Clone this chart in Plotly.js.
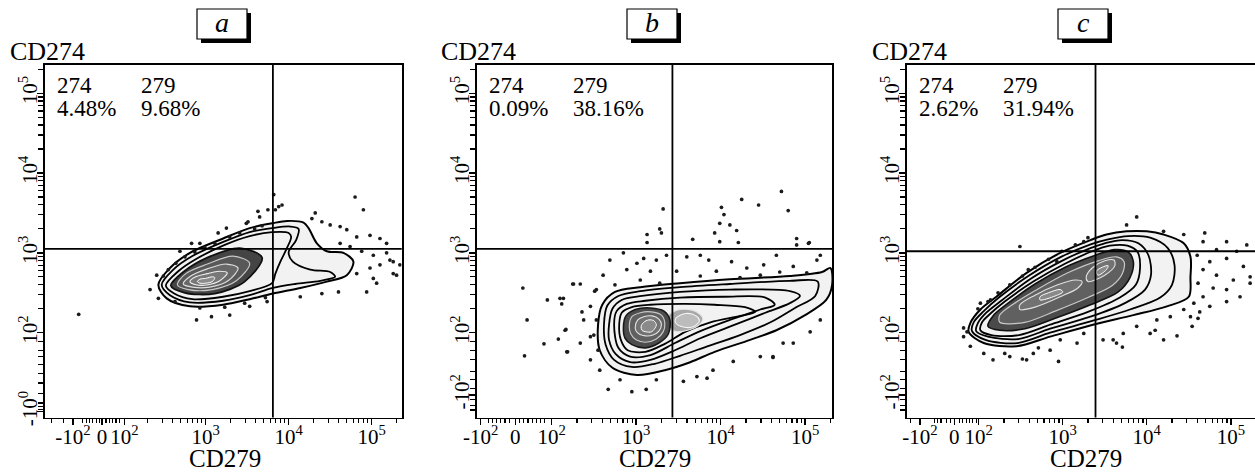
<!DOCTYPE html>
<html><head><meta charset="utf-8">
<script src="https://cdn.plot.ly/plotly-3.0.1.min.js"></script>
<style>html,body{margin:0;padding:0;background:#fff;overflow:hidden}#chart{width:1255px;height:473px}</style>
</head><body><div id="chart"></div>
<script>
// ---------- DATA (display units: decade position, 10^k -> k) ----------
const panels = ['a', 'b', 'c'];
const q274 = ['4.48%', '0.09%', '2.62%'];
const q279 = ['9.68%', '38.16%', '31.94%'];
const gateX = [3.81, 3.43, 3.39];
const gateY = [3.05, 3.05, 3.02];
const xTickText = ['-10<sup>2</sup>', '0', '10<sup>2</sup>', '10<sup>3</sup>', '10<sup>4</sup>', '10<sup>5</sup>'];
const yTickTextA = ['-10<sup>0</sup>', '10<sup>2</sup>', '10<sup>3</sup>', '10<sup>4</sup>', '10<sup>5</sup>'];
const yTickTextBC = ['-10<sup>2</sup>', '10<sup>2</sup>', '10<sup>3</sup>', '10<sup>4</sup>', '10<sup>5</sup>'];

// panel a contours
const aC1x = [2.43,2.57,2.81,3.21,3.53,3.80,3.98,4.18,4.24,4.34,4.46,4.66,4.78,4.70,4.46,4.14,3.81,3.53,3.21,2.81,2.53,2.43];
const aC1y = [2.60,2.81,3.00,3.18,3.31,3.37,3.40,3.38,3.31,3.12,3.02,3.00,2.89,2.72,2.64,2.56,2.49,2.42,2.35,2.33,2.43,2.60];
const aC2x = [2.47,2.61,2.84,3.22,3.53,3.80,4.02,4.12,4.09,4.00,4.05,4.26,4.50,4.56,4.38,4.08,3.81,3.53,3.21,2.81,2.57,2.47];
const aC2y = [2.60,2.79,2.96,3.14,3.26,3.31,3.33,3.30,3.16,3.01,2.89,2.79,2.76,2.70,2.65,2.61,2.56,2.47,2.40,2.38,2.47,2.60];
const aC3x = [2.52,2.67,2.88,3.23,3.53,3.80,4.00,4.03,3.97,3.90,3.84,3.80,3.53,3.21,2.84,2.62,2.52];
const aC3y = [2.59,2.77,2.92,3.10,3.21,3.26,3.25,3.20,3.04,2.89,2.74,2.62,2.52,2.45,2.42,2.49,2.59];
const aC4x = [3.68,3.47,3.11,2.75,2.58,2.73,3.02,3.41,3.68];
const aC4y = [2.94,2.64,2.49,2.50,2.59,2.76,2.94,3.06,2.94];
const aC5x = [3.53,3.37,3.08,2.79,2.66,2.76,3.02,3.33,3.53];
const aC5y = [2.87,2.65,2.54,2.54,2.60,2.74,2.86,2.96,2.87];
const aC6x = [3.39,3.27,3.05,2.84,2.73,2.82,3.02,3.25,3.39];
const aC6y = [2.81,2.65,2.57,2.57,2.61,2.71,2.80,2.86,2.81];
const aC7x = [3.26,3.17,3.03,2.88,2.81,2.88,3.02,3.16,3.26];
const aC7y = [2.75,2.65,2.60,2.60,2.64,2.70,2.74,2.77,2.75];
const aC8x = [3.11,3.08,3.00,2.93,2.90,2.93,3.00,3.08,3.11];
const aC8y = [2.69,2.64,2.62,2.62,2.64,2.67,2.68,2.70,2.69];
const aDotX = [3.82,3.88,3.92,3.84,3.75,3.63,3.65,3.49,3.25,3.15,2.93,2.83,2.69,4.80,4.90,4.32,4.28,4.40,4.50,4.62,4.70,4.82,4.98,5.10,5.18,4.62,4.74,4.88,5.02,5.18,5.26,5.10,4.98,4.82,5.02,5.30,5.06,4.94,4.60,4.40,4.14,3.74,3.53,3.29,3.07,2.89,2.43,2.33,2.41,1.47,5.34,5.22,5.26,3.51,
  2.49,2.55,2.64,2.75,2.87,2.99,3.11,3.29,3.41,3.59,3.68,2.63,2.93,3.23,3.47,3.72];
const aDotY = [3.73,3.58,3.60,3.54,3.54,3.52,3.45,3.37,3.31,3.25,3.12,3.12,3.02,3.70,3.54,3.50,3.43,3.39,3.35,3.33,3.29,3.20,3.22,3.18,3.12,3.12,3.08,3.02,2.97,3.00,2.89,2.85,2.81,2.74,2.68,2.72,2.62,2.51,2.51,2.49,2.45,2.39,2.33,2.22,2.20,2.16,2.43,2.54,2.72,2.23,2.85,2.91,2.74,3.39,
  2.71,2.79,2.87,2.95,3.01,3.07,3.12,3.20,3.25,3.30,3.34,2.39,2.31,2.32,2.37,2.44];

// panel b contours
const bC1x = [2.55,2.60,2.75,3.05,3.52,4.11,4.82,5.20,5.30,5.32,5.25,5.00,4.66,4.35,3.93,3.64,3.34,3.01,2.72,2.57,2.55];
const bC1y = [2.10,2.35,2.51,2.57,2.62,2.67,2.71,2.76,2.81,2.60,2.41,2.22,2.03,1.91,1.76,1.63,1.53,1.47,1.56,1.78,2.10];
const bC2x = [2.62,2.66,2.79,3.05,3.52,4.11,4.82,5.15,5.12,4.88,4.59,4.23,3.82,3.52,3.22,2.95,2.74,2.64,2.62];
const bC2y = [2.10,2.34,2.46,2.52,2.57,2.61,2.65,2.64,2.46,2.31,2.13,1.97,1.82,1.71,1.61,1.57,1.66,1.85,2.10];
const bC3x = [2.68,2.72,2.83,3.07,3.52,4.11,4.82,4.94,4.82,4.53,4.17,3.76,3.46,3.17,2.93,2.76,2.68,2.68];
const bC3y = [2.10,2.30,2.41,2.46,2.51,2.54,2.52,2.46,2.37,2.25,2.10,1.93,1.78,1.66,1.63,1.73,1.91,2.10];
const bC4x = [2.74,2.77,2.89,3.11,3.52,4.05,4.53,4.64,4.47,4.11,3.76,3.46,3.17,2.93,2.79,2.74];
const bC4y = [2.10,2.27,2.36,2.40,2.44,2.45,2.44,2.35,2.29,2.16,2.02,1.87,1.72,1.70,1.81,2.10];
const bC5x = [2.80,2.83,2.95,3.17,3.58,3.93,4.29,4.41,4.23,3.88,3.58,3.34,3.11,2.90,2.82,2.80];
const bC5y = [2.10,2.25,2.32,2.35,2.36,2.35,2.32,2.26,2.21,2.13,2.01,1.86,1.76,1.78,1.91,2.10];
const bL2x = [3.38,3.52,3.70,3.79,3.76,3.61,3.45,3.38,3.38];
const bL2y = [2.22,2.29,2.27,2.18,2.11,2.03,2.02,2.10,2.22];
const bL3x = [3.47,3.59,3.71,3.75,3.69,3.56,3.47,3.47];
const bL3y = [2.18,2.24,2.21,2.15,2.08,2.07,2.12,2.18];
const bC6x = [2.85,2.88,2.99,3.17,3.33,3.40,3.38,3.27,3.11,2.95,2.87,2.85];
const bC6y = [2.06,2.21,2.29,2.31,2.27,2.16,1.98,1.87,1.81,1.85,1.93,2.06];
const bC7x = [2.92,2.95,3.05,3.18,3.30,3.34,3.32,3.24,3.11,3.00,2.94,2.92];
const bC7y = [2.07,2.20,2.25,2.26,2.22,2.12,2.01,1.92,1.88,1.91,1.98,2.07];
const bC8x = [2.99,3.02,3.09,3.19,3.27,3.30,3.27,3.20,3.11,3.04,3.00,2.99];
const bC8y = [2.07,2.16,2.20,2.21,2.17,2.10,2.02,1.97,1.96,1.98,2.02,2.07];
const bC9x = [3.06,3.09,3.15,3.21,3.24,3.22,3.18,3.12,3.07,3.06];
const bC9y = [2.08,2.13,2.16,2.15,2.10,2.05,2.01,2.01,2.03,2.08];
const bDotX = [4.72,4.25,4.45,4.80,4.01,4.04,3.99,4.11,4.19,3.93,3.99,4.21,4.90,5.05,3.67,3.32,3.28,3.30,3.13,3.13,2.69,2.85,3.01,3.09,3.24,3.36,3.60,3.76,3.86,4.13,4.31,4.51,4.66,4.86,5.14,5.18,2.61,2.89,3.17,3.48,3.95,4.47,5.02,2.26,2.34,2.53,2.14,2.46,2.16,2.38,2.34,2.18,2.46,1.66,1.71,1.68,1.95,2.10,2.12,1.91,2.08,2.17,2.19,2.25,2.36,2.51,2.67,2.95,3.12,3.56,3.84,4.15,4.62,4.47,2.46,2.57,2.81,3.24,3.72,3.91,5.06,5.18,4.86,4.62,4.74,4.90,5.04,
  2.75,3.05,3.28,3.76,4.23,4.70,2.53,2.50,2.55];
const bDotY = [3.77,3.67,3.60,3.53,3.57,3.48,3.37,3.35,3.28,3.25,3.14,3.13,3.18,3.13,3.17,3.55,3.30,3.25,3.23,3.13,2.91,3.00,2.87,2.93,2.91,2.97,2.95,2.97,2.91,2.89,2.81,2.85,2.97,2.83,2.91,2.97,2.72,2.79,2.77,2.77,2.77,2.72,2.75,2.61,2.61,2.54,2.43,2.33,2.03,2.16,1.87,1.76,1.95,2.56,2.16,1.71,2.41,2.43,2.36,1.86,1.92,2.04,1.76,2.61,2.26,2.52,1.29,1.26,1.29,1.39,1.43,1.64,1.70,1.70,1.66,1.53,1.41,1.41,1.45,1.53,2.01,2.16,1.87,1.69,1.87,3.10,3.12,
  2.60,2.66,2.62,2.71,2.69,2.76,2.16,1.97,1.78];

// panel c contours
const cC1x = [1.88,2.06,2.45,2.85,3.36,3.84,4.24,4.50,4.52,4.52,4.44,4.20,4.00,3.76,3.52,3.33,2.97,2.57,2.21,2.02,1.90,1.88];
const cC1y = [2.01,1.87,1.83,1.95,2.10,2.22,2.33,2.45,2.70,2.95,3.12,3.23,3.27,3.27,3.23,3.16,3.00,2.75,2.45,2.29,2.12,2.01];
const cC2x = [1.92,2.08,2.46,2.85,3.36,3.80,4.16,4.30,4.33,4.25,4.04,3.78,3.54,3.34,2.98,2.59,2.24,2.06,1.94,1.92];
const cC2y = [2.02,1.91,1.87,2.00,2.15,2.29,2.44,2.60,2.85,3.06,3.19,3.21,3.17,3.11,2.95,2.71,2.44,2.27,2.13,2.02];
const cC3x = [1.97,2.11,2.47,2.85,3.33,3.74,3.98,4.05,4.02,3.90,3.71,3.50,3.33,2.99,2.61,2.28,2.09,1.99,1.97];
const cC3y = [2.02,1.95,1.92,2.05,2.20,2.37,2.54,2.72,2.97,3.12,3.16,3.12,3.06,2.90,2.67,2.41,2.25,2.12,2.02];
const cC4x = [2.02,2.15,2.48,2.85,3.30,3.68,3.87,3.92,3.89,3.77,3.56,3.35,3.02,2.65,2.31,2.14,2.04,2.02];
const cC4y = [2.03,1.97,1.97,2.10,2.26,2.44,2.60,2.81,3.01,3.09,3.09,3.02,2.86,2.64,2.39,2.24,2.13,2.03];
const cC5x = [2.11,2.25,2.55,2.91,3.33,3.66,3.80,3.84,3.78,3.62,3.39,3.03,2.67,2.35,2.17,2.11];
const cC5y = [2.08,2.03,2.05,2.18,2.35,2.51,2.69,2.89,3.01,3.04,2.97,2.82,2.61,2.37,2.21,2.08];
const cC6x = [2.25,2.55,2.91,3.30,3.59,3.71,3.73,3.64,3.42,3.06,2.71,2.40,2.25,2.25];
const cC6y = [2.13,2.13,2.27,2.44,2.59,2.74,2.89,2.95,2.90,2.75,2.55,2.35,2.22,2.13];
const cC7ax = [2.49,2.67,2.97,3.18,3.23,3.15,2.94,2.67,2.49,2.49];
const cC7ay = [2.29,2.32,2.45,2.56,2.64,2.66,2.60,2.47,2.35,2.29];
const cC7bx = [3.30,3.50,3.62,3.61,3.50,3.35,3.28,3.30];
const cC7by = [2.64,2.72,2.84,2.91,2.90,2.81,2.70,2.64];
const cC8ax = [2.73,2.91,3.00,2.97,2.83,2.73,2.73];
const cC8ay = [2.41,2.46,2.51,2.54,2.50,2.45,2.41];
const cC8bx = [3.42,3.52,3.54,3.47,3.40,3.42];
const cC8by = [2.72,2.79,2.84,2.82,2.77,2.72];
const cDotX = [3.88,3.76,4.69,4.95,5.19,4.20,4.44,4.67,4.83,5.07,4.60,4.75,4.95,5.15,4.67,4.83,5.03,5.23,4.61,4.79,4.95,5.11,4.67,4.56,4.75,4.95,4.44,4.28,4.12,4.52,4.63,5.23,4.04,3.88,3.72,3.64,3.48,3.25,3.17,2.97,2.85,2.65,2.57,2.37,2.17,2.06,1.90,1.82,1.82,4.20,2.95,3.60,3.71,2.31,2.52,2.71,1.86,4.54,4.61,4.10,4.36,2.49,3.25,2.59,2.93,2.14,2.02,
  1.99,2.11,2.23,2.37,2.52,2.67,2.83,2.99,3.15,3.30];
const cDotY = [3.45,3.35,3.25,3.14,3.10,3.27,3.23,3.14,3.04,3.02,2.97,2.89,2.93,2.83,2.79,2.72,2.66,2.70,2.62,2.56,2.54,2.45,2.45,2.37,2.33,2.39,2.29,2.20,2.16,2.20,2.26,2.62,1.99,2.08,1.99,1.87,1.91,1.99,1.87,1.91,1.78,1.74,1.66,1.70,1.66,1.74,1.83,1.95,2.06,1.91,1.64,1.91,1.82,1.74,1.67,1.81,2.01,2.08,2.18,2.03,1.96,3.08,3.14,2.79,2.89,2.41,2.37,
  2.30,2.39,2.50,2.60,2.71,2.82,2.92,3.02,3.10,3.19];

// ---------- BUILD ----------
const W = 1255, H = 473;
const FONT = '"Liberation Serif", "Times New Roman", Times, serif';
const fx = p => p / W;
const fy = p => 1 - p / H;

const traces = [];
function contour(xs, ys, ax, color, width, fill) {
  traces.push({type: 'scatter', mode: 'lines', x: xs, y: ys, xaxis: ax[0], yaxis: ax[1],
    line: {color: color, width: width, shape: 'spline', smoothing: 0.9},
    fill: fill ? 'toself' : 'none', fillcolor: fill || 'rgba(0,0,0,0)',
    hoverinfo: 'skip', showlegend: false});
}
function dots(xs, ys, ax) {
  traces.push({type: 'scatter', mode: 'markers', x: xs, y: ys, xaxis: ax[0], yaxis: ax[1],
    marker: {size: 3.7, color: '#1b1b1b'}, hoverinfo: 'skip', showlegend: false});
}
const AX = [['x', 'y'], ['x2', 'y2'], ['x3', 'y3']];
const HALO = '#f2f2f2';

// panel a
contour(aC1x, aC1y, AX[0], '#000', 2.0, HALO);
contour(aC2x, aC2y, AX[0], '#000', 1.8, null);
contour(aC3x, aC3y, AX[0], '#000', 1.8, null);
contour(aC4x, aC4y, AX[0], '#111', 1.8, '#444444');
contour(aC5x, aC5y, AX[0], '#c8c8c8', 1.2, '#585858');
contour(aC6x, aC6y, AX[0], '#dedede', 1.2, '#686868');
contour(aC7x, aC7y, AX[0], '#efefef', 1.1, '#787878');
contour(aC8x, aC8y, AX[0], '#ffffff', 1.0, '#8c8c8c');
dots(aDotX, aDotY, AX[0]);
// panel b
contour(bC1x, bC1y, AX[1], '#000', 2.0, HALO);
contour(bC2x, bC2y, AX[1], '#000', 1.8, null);
contour(bC3x, bC3y, AX[1], '#000', 1.8, null);
contour(bC4x, bC4y, AX[1], '#000', 1.8, null);
contour(bC5x, bC5y, AX[1], '#000', 1.8, null);
contour(bL2x, bL2y, AX[1], '#e6e6e6', 1.2, '#a8a8a8');
contour(bL3x, bL3y, AX[1], '#f4f4f4', 1.1, '#bcbcbc');
contour(bC6x, bC6y, AX[1], '#1a1a1a', 1.6, '#4c4c4c');
contour(bC7x, bC7y, AX[1], '#c8c8c8', 1.2, '#606060');
contour(bC8x, bC8y, AX[1], '#e2e2e2', 1.1, '#727272');
contour(bC9x, bC9y, AX[1], '#ffffff', 1.0, '#8a8a8a');
dots(bDotX, bDotY, AX[1]);
// panel c
contour(cC1x, cC1y, AX[2], '#000', 2.0, HALO);
contour(cC2x, cC2y, AX[2], '#000', 1.8, null);
contour(cC3x, cC3y, AX[2], '#000', 1.8, null);
contour(cC4x, cC4y, AX[2], '#000', 1.8, null);
contour(cC5x, cC5y, AX[2], '#111', 1.6, '#4a4a4a');
contour(cC6x, cC6y, AX[2], '#c8c8c8', 1.2, '#606060');
contour(cC7ax, cC7ay, AX[2], '#e0e0e0', 1.1, '#727272');
contour(cC7bx, cC7by, AX[2], '#e0e0e0', 1.1, '#727272');
contour(cC8ax, cC8ay, AX[2], '#ffffff', 1.0, '#8a8a8a');
contour(cC8bx, cC8by, AX[2], '#ffffff', 1.0, '#8a8a8a');
dots(cDotX, cDotY, AX[2]);

// axes
function logMinors(hi) {
  const v = [];
  for (let k = 2; k <= 5; k++) for (let m = 2; m <= 9; m++) {
    const t = k + Math.log10(m); if (t < hi) v.push(t);
  }
  return v;
}
const tickFont = {family: FONT, size: 21, color: '#000'};
function xAxis(dom, rng, tv, extra, anchor) {
  return {domain: dom, range: rng, anchor: anchor, tickmode: 'array', tickvals: tv, ticktext: xTickText,
    tickangle: 0, ticks: 'outside', ticklen: 6, tickwidth: 1.4, tickcolor: '#000', ticklabelstandoff: -7,
    showline: true, linecolor: '#000', linewidth: 1.8, mirror: true,
    showgrid: false, zeroline: false, tickfont: tickFont, fixedrange: true,
    minor: {tickmode: 'array', tickvals: extra.concat(logMinors(rng[1])), ticks: 'outside',
      ticklen: 4, tickwidth: 1.2, tickcolor: '#000', showgrid: false}};
}
function yAxis(dom, rng, tv, tt, extra, anchor, mirror) {
  return {domain: dom, range: rng, anchor: anchor, tickmode: 'array', tickvals: tv, ticktext: tt,
    tickangle: -90, ticks: 'outside', ticklen: 6, tickwidth: 1.4, tickcolor: '#000', ticklabelstandoff: -8,
    showline: true, linecolor: '#000', linewidth: 1.8, mirror: mirror,
    showgrid: false, zeroline: false, tickfont: tickFont, fixedrange: true,
    minor: {tickmode: 'array', tickvals: extra.concat(logMinors(rng[1])), ticks: 'outside',
      ticklen: 5, tickwidth: 1.2, tickcolor: '#000', showgrid: false}};
}
const yDom = [fy(417.5), fy(65)];
const yRng = [0.937, 5.354];
const yExtraA = [1.04, 1.07, 1.12, 1.24, 1.37, 1.49, 1.60, 1.70, 1.78, 1.89];
const yExtraBC = [1.03, 1.09, 1.16, 1.30, 1.41, 1.51, 1.66, 1.78, 1.89];

const layout = {
  width: W, height: H, margin: {l: 0, r: 0, t: 0, b: 0},
  paper_bgcolor: '#fff', plot_bgcolor: '#fff', showlegend: false,
  font: {family: FONT, color: '#000'},
  xaxis: xAxis([fx(45), fx(401.7)], [1.064, 5.362], [1.40, 1.75, 2.02, 3, 4, 5],
    [1.14, 1.29, 1.52, 1.56, 1.60, 1.64, 1.68, 1.72, 1.80, 1.84, 1.88, 1.92, 1.96], 'y'),
  xaxis2: xAxis([fx(476.7), fx(832.3)], [1.114, 5.322], [1.16, 1.57, 2, 3, 4, 5],
    [1.25, 1.30, 1.35, 1.40, 1.45, 1.50, 1.62, 1.67, 1.72, 1.77, 1.82, 1.87, 1.92], 'y2'),
  xaxis3: xAxis([fx(906.7), 1], [1.143, 5.288], [1.30, 1.71, 2, 3, 4, 5],
    [1.19, 1.47, 1.51, 1.55, 1.62, 1.66, 1.77, 1.81, 1.85, 1.89, 1.93, 1.97], 'y3'),
  yaxis: yAxis(yDom, yRng, [1.01, 2, 3, 4, 5], yTickTextA, yExtraA, 'x', true),
  yaxis2: yAxis(yDom, yRng, [1.22, 2, 3, 4, 5], yTickTextBC, yExtraBC, 'x2', true),
  yaxis3: yAxis(yDom, yRng, [1.22, 2, 3, 4, 5], yTickTextBC, yExtraBC, 'x3', false),
  shapes: [], annotations: []
};

const lefts = [45, 476.7, 906.7];
const boxC = [222, 652, 1083];
const cd274X = [47.5, 478, 909];
const cd279X = [225, 655, 1086];
for (let i = 0; i < 3; i++) {
  const xa = AX[i][0], ya = AX[i][1];
  layout.shapes.push({type: 'line', xref: xa, yref: ya + ' domain', x0: gateX[i], x1: gateX[i], y0: 0, y1: 1,
    line: {color: '#000', width: 1.8}});
  layout.shapes.push({type: 'line', xref: xa + ' domain', yref: ya, x0: 0, x1: 1, y0: gateY[i], y1: gateY[i],
    line: {color: '#000', width: 1.8}});
  // boxed panel letter with shadow
  layout.shapes.push({type: 'rect', xref: 'paper', yref: 'paper', x0: fx(boxC[i] - 21), x1: fx(boxC[i] + 29),
    y0: fy(43), y1: fy(13), fillcolor: '#000', line: {width: 0}});
  layout.shapes.push({type: 'rect', xref: 'paper', yref: 'paper', x0: fx(boxC[i] - 25), x1: fx(boxC[i] + 25),
    y0: fy(39), y1: fy(9), fillcolor: '#fff', line: {color: '#000', width: 1.2}});
  layout.annotations.push({xref: 'paper', yref: 'paper', x: fx(boxC[i]), y: fy(23), xanchor: 'center', yanchor: 'middle',
    text: '<i>' + panels[i] + '</i>', showarrow: false, font: {family: FONT, size: 28, color: '#000'}});
  layout.annotations.push({xref: 'paper', yref: 'paper', x: fx(cd274X[i]), y: fy(51), xanchor: 'center', yanchor: 'middle',
    text: 'CD274', showarrow: false, font: {family: FONT, size: 26, color: '#000'}});
  layout.annotations.push({xref: 'paper', yref: 'paper', x: fx(cd279X[i]), y: 0, xanchor: 'center', yanchor: 'bottom',
    borderpad: 0, text: 'CD279', showarrow: false, font: {family: FONT, size: 25, color: '#000'}});
  const qf = {family: FONT, size: 23, color: '#000'};
  layout.annotations.push({xref: 'paper', yref: 'paper', x: fx(lefts[i] + 10), y: fy(85), xanchor: 'left', yanchor: 'middle',
    text: '274', showarrow: false, font: qf});
  layout.annotations.push({xref: 'paper', yref: 'paper', x: fx(lefts[i] + 10), y: fy(108), xanchor: 'left', yanchor: 'middle',
    text: q274[i], showarrow: false, font: qf});
  layout.annotations.push({xref: 'paper', yref: 'paper', x: fx(lefts[i] + 94), y: fy(85), xanchor: 'left', yanchor: 'middle',
    text: '279', showarrow: false, font: qf});
  layout.annotations.push({xref: 'paper', yref: 'paper', x: fx(lefts[i] + 94), y: fy(108), xanchor: 'left', yanchor: 'middle',
    text: q279[i], showarrow: false, font: qf});
}

Plotly.newPlot('chart', traces, layout, {staticPlot: true, displayModeBar: false});
</script>
</body></html>
